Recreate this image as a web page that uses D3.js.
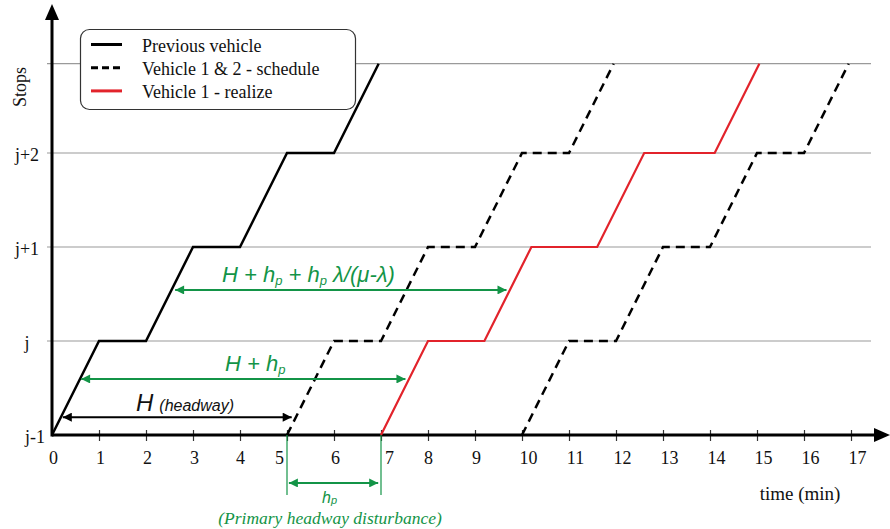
<!DOCTYPE html>
<html><head><meta charset="utf-8">
<script src="https://cdn.jsdelivr.net/npm/d3@7"></script>
<style>body{margin:0;background:#fff}
.serif{font-family:"Liberation Serif","DejaVu Serif","Times New Roman",serif}
.sans{font-family:"Liberation Sans","Arimo",Arial,sans-serif}
</style>
</head><body>
<svg id="c" width="890" height="529"></svg>
<script>
// ---------- data ----------
const timeTicks = [0,1,2,3,4,5,6,7,8,9,10,11,12,13,14,15,16,17];
const stopLabels = ["j-1","j","j+1","j+2"];
const stopValues = [0,1,2,3];
const gridStops = [1,2,3,3.95];
const previousVehicle = [[0,0],[1,1],[2,1],[3,2],[4,2],[5,3],[6,3],[6.95,3.95]];
const vehicle1Schedule = [[5,0],[6,1],[7,1],[8,2],[9,2],[10,3],[11,3],[11.95,3.95]];
const vehicle2Schedule = [[10,0],[11,1],[12,1],[13,2],[14,2],[15,3],[16,3],[16.95,3.95]];
const vehicle1Realized = [[7,0],[8,1],[9.2,1],[10.2,2],[11.6,2],[12.6,3],[14.1,3],[15.05,3.95]];
const legendLabels = ["Previous vehicle","Vehicle 1 & 2 - schedule","Vehicle 1 - realize"];
// annotation arrows: stop level, from time, to time
const headwayArrow = {stop:0.19, from:0.23, to:5.1};
const hpArrow = {stop:0.596, from:0.62, to:7.52};
const longArrow = {stop:1.543, from:2.62, to:9.67};
const disturbArrow = {stop:-0.51, from:5.04, to:6.94};
const disturbMarks = [5,7];

// ---------- setup ----------
const svg = d3.select("#c");
const x = d3.scaleLinear().domain([0,17]).range([52,851]);
const y = d3.scaleLinear().domain([0,3]).range([435,153]);
const GREEN = "#139447", RED = "#e2232b";

const defs = svg.append("defs");
function marker(id, color, w, h){
  defs.append("marker").attr("id",id).attr("viewBox","0 0 10 10").attr("refX",10).attr("refY",5)
    .attr("markerWidth",w).attr("markerHeight",h).attr("markerUnits","userSpaceOnUse")
    .attr("orient","auto-start-reverse")
    .append("path").attr("d","M0,0L10,5L0,10z").attr("fill",color);
}
marker("ag", GREEN, 11, 9);
marker("ab", "#000", 11, 9);

// gridlines
svg.append("g").selectAll("line").data(gridStops).join("line")
  .attr("x1",47).attr("x2",871).attr("y1",d=>y(d)).attr("y2",d=>y(d))
  .attr("stroke","#9a9a9a").attr("stroke-width",1.2);

// x axis ticks + labels
const nudge = v => v===5 ? -8 : v===7 ? 8 : v>=10 ? 6 : (v===4||v===8) ? 0 : 1;
const xAxis = svg.append("g").attr("transform","translate(0,435)")
  .call(d3.axisBottom(x).tickValues(timeTicks).tickSize(6).tickFormat(d3.format("d")));
xAxis.attr("font-family",null).attr("font-size",null);
xAxis.select(".domain").remove();
xAxis.selectAll(".tick line").attr("y1",-5).attr("y2",6).attr("stroke","#333").attr("stroke-width",1.2)
  .filter(d=>d===0).remove();
xAxis.selectAll(".tick text").attr("class","serif").style("font-size","18px").attr("fill","#111")
  .attr("y",29).attr("dy",null).attr("dx",d=>nudge(d));

// y labels
svg.append("g").selectAll("text").data(stopValues).join("text")
  .attr("class","serif")
  .attr("x",(d,i)=> i===0 ? 35 : 27).attr("y",d=>y(d)+8)
  .attr("text-anchor","middle").style("font-size","18px").attr("fill","#111")
  .text((d,i)=>stopLabels[i]);

svg.append("text").attr("class","serif").attr("transform","translate(26,87) rotate(-90)").attr("text-anchor","middle")
  .style("font-size","18px").attr("fill","#111").text("Stops");

// axes lines with arrows
svg.append("line").attr("x1",x(0)).attr("x2",878).attr("y1",435).attr("y2",435).attr("stroke","#000").attr("stroke-width",3);
svg.append("path").attr("d","M874,428L890,435L874,442z").attr("fill","#000");
svg.append("line").attr("x1",x(0)).attr("x2",x(0)).attr("y1",436.5).attr("y2",14).attr("stroke","#000").attr("stroke-width",3);
svg.append("path").attr("d",`M${x(0)-7},20L${x(0)},4L${x(0)+7},20z`).attr("fill","#000");

// trajectories
const line = d3.line().x(d=>x(d[0])).y(d=>y(d[1]));
svg.append("path").datum(previousVehicle).attr("d",line).attr("fill","none").attr("stroke","#000").attr("stroke-width",2.5);
[vehicle1Schedule, vehicle2Schedule].forEach(s=>{
  svg.append("path").datum(s).attr("d",line).attr("fill","none").attr("stroke","#000")
    .attr("stroke-width",2.5).attr("stroke-dasharray","9,6");
});
svg.append("path").datum(vehicle1Realized).attr("d",line).attr("fill","none").attr("stroke",RED).attr("stroke-width",2.2);

// annotations
function arrow(a, color, mk){
  svg.append("line").attr("x1",x(a.from)).attr("x2",x(a.to)).attr("y1",y(a.stop)).attr("y2",y(a.stop))
    .attr("stroke",color).attr("stroke-width",2)
    .attr("marker-start",`url(#${mk})`).attr("marker-end",`url(#${mk})`);
}
arrow(headwayArrow,"#000","ab");
arrow(hpArrow,GREEN,"ag");
arrow(longArrow,GREEN,"ag");
arrow(disturbArrow,GREEN,"ag");
svg.append("g").selectAll("line").data(disturbMarks).join("line")
  .attr("x1",d=>x(d)).attr("x2",d=>x(d)).attr("y1",435).attr("y2",495)
  .attr("stroke",GREEN).attr("stroke-width",1.2);

// text: H (headway)
const t1 = svg.append("text").attr("class","sans").attr("x",136).attr("y",411).attr("font-style","italic").attr("fill","#111");
t1.append("tspan").style("font-size","24px").text("H");
t1.append("tspan").style("font-size","16px").attr("dx",6).text("(headway)");

// H + hp
const t2 = svg.append("text").attr("class","sans").attr("x",225).attr("y",371).attr("font-style","italic").attr("fill",GREEN).style("font-size","22px");
t2.append("tspan").text("H + h");
t2.append("tspan").style("font-size","13px").attr("dy",3).text("p");

// long formula
const t3 = svg.append("text").attr("class","sans").attr("x",222).attr("y",282).attr("font-style","italic").attr("fill",GREEN).style("font-size","22px");
t3.append("tspan").text("H + h");
t3.append("tspan").style("font-size","13px").attr("dy",3).text("p");
t3.append("tspan").attr("dy",-3).text(" + h");
t3.append("tspan").style("font-size","13px").attr("dy",3).text("p");
t3.append("tspan").attr("dy",-3).text(" λ/(μ-λ)");

// hp under axis
const t4 = svg.append("text").attr("class","sans").attr("x",322).attr("y",503).attr("font-style","italic").attr("fill",GREEN).style("font-size","16px");
t4.append("tspan").text("h");
t4.append("tspan").style("font-size","11px").attr("dy",1).text("p");
svg.append("text").attr("class","serif").attr("x",330).attr("y",524).attr("text-anchor","middle")
  .attr("font-style","italic").style("font-size","17.5px").attr("fill",GREEN).text("(Primary headway disturbance)");

// time label
svg.append("text").attr("class","serif").attr("x",800).attr("y",500).attr("text-anchor","middle")
  .style("font-size","19px").attr("fill","#111").text("time (min)");

// legend
const lg = svg.append("g");
lg.append("rect").attr("x",80.5).attr("y",29.5).attr("width",275).attr("height",80).attr("rx",9)
  .attr("fill","#fff").attr("stroke","#333").attr("stroke-width",1.2);
const legendStyles = [{c:"#000",d:null},{c:"#000",d:"7,4"},{c:RED,d:null}];
legendLabels.forEach((lab,i)=>{
  const yy = 44.5 + i*23.2;
  lg.append("line").attr("x1",91).attr("x2",122).attr("y1",yy).attr("y2",yy)
    .attr("stroke",legendStyles[i].c).attr("stroke-width",3).attr("stroke-dasharray",legendStyles[i].d);
  lg.append("text").attr("class","serif").attr("x",142).attr("y",yy+7).style("font-size","18px")
    .attr("fill","#111").text(lab);
});
</script>
</body></html>
